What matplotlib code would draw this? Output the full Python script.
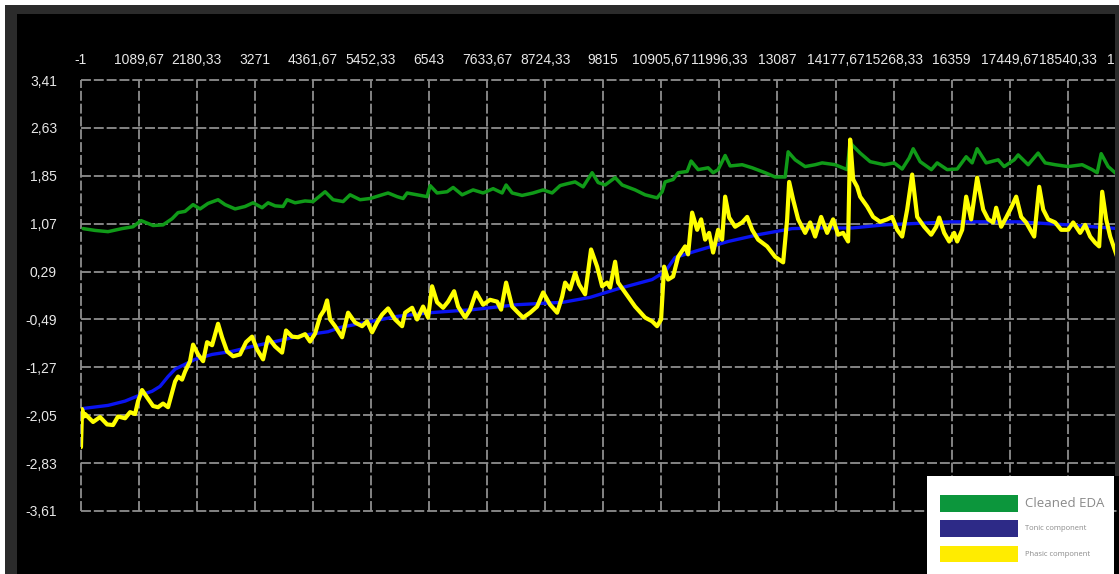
import matplotlib
matplotlib.use("Agg")
import matplotlib.pyplot as plt
from matplotlib.patches import Rectangle

W, H = 1119, 574

# ---------------- data ----------------
series_names = ["Cleaned EDA", "Tonic component", "Phasic component"]

green_x = [47, 272, 516, 779, 986, 1136, 1362, 1549, 1718, 1831,
           1962, 2113, 2244, 2394, 2582, 2714, 2902, 3089, 3240, 3409,
           3521, 3653, 3803, 3878, 4028, 4216, 4366, 4592, 4742, 4930,
           5061, 5249, 5437, 5625, 5775, 5944, 6057, 6132, 6319, 6507,
           6564, 6695, 6883, 6996, 7165, 7371, 7559, 7747, 7916, 7991,
           8104, 8291, 8498, 8686, 8855, 9005, 9137, 9287, 9437, 9606,
           9719, 9850, 10038, 10170, 10413, 10601, 10826, 10921, 10977, 11127,
           11221, 11390, 11465, 11597, 11785, 11878, 11972, 12104, 12198, 12423,
           12611, 12855, 13043, 13231, 13287, 13419, 13606, 13794, 13926, 14170,
           14395, 14451, 14490, 14639, 14827, 15090, 15278, 15428, 15560, 15635,
           15766, 15977, 16085, 16273, 16461, 16630, 16742, 16836, 17005, 17231,
           17343, 17531, 17606, 17794, 17981, 18113, 18301, 18545, 18808, 18996,
           19090, 19165, 19296, 19465]
green_y = [0.99, 0.96, 0.94, 0.99, 1.02, 1.12, 1.04, 1.05, 1.15, 1.25,
           1.27, 1.38, 1.31, 1.40, 1.46, 1.38, 1.31, 1.35, 1.41, 1.33,
           1.41, 1.36, 1.35, 1.46, 1.41, 1.44, 1.43, 1.59, 1.46, 1.43,
           1.54, 1.46, 1.48, 1.53, 1.57, 1.51, 1.48, 1.57, 1.54, 1.51,
           1.69, 1.57, 1.59, 1.66, 1.54, 1.62, 1.57, 1.64, 1.57, 1.70,
           1.57, 1.53, 1.57, 1.62, 1.57, 1.69, 1.72, 1.75, 1.67, 1.90,
           1.74, 1.70, 1.82, 1.70, 1.62, 1.54, 1.49, 1.59, 1.75, 1.79,
           1.90, 1.92, 2.09, 1.95, 1.98, 1.90, 1.95, 2.18, 2.01, 2.03,
           1.98, 1.90, 1.83, 1.83, 2.24, 2.11, 2.00, 2.03, 2.06, 2.03,
           1.95, 2.40, 2.35, 2.22, 2.08, 2.03, 2.06, 1.96, 2.14, 2.29,
           2.08, 1.95, 2.06, 1.95, 1.96, 2.16, 2.06, 2.29, 2.06, 2.11,
           2.00, 2.11, 2.19, 2.03, 2.22, 2.06, 2.03, 2.00, 2.03, 1.95,
           1.90, 2.21, 2.00, 1.87]

tonic_x = [47, 516, 836, 1061, 1343, 1493, 1643, 1775, 1962, 2150,
           2470, 2845, 3221, 3653, 4160, 4648, 4874, 5944, 6564, 7371,
           8197, 9061, 9568, 10094, 10733, 10977, 11165, 11540, 12160, 12723,
           13362, 13850, 14489, 15090, 16348, 17606, 18545, 19484]
tonic_y = [-1.94, -1.89, -1.82, -1.74, -1.66, -1.58, -1.42, -1.30, -1.22, -1.14,
           -1.06, -1.01, -0.93, -0.85, -0.75, -0.69, -0.62, -0.44, -0.38, -0.33,
           -0.25, -0.21, -0.13, 0.01, 0.16, 0.29, 0.52, 0.62, 0.78, 0.89,
           0.99, 1.00, 1.00, 1.05, 1.10, 1.10, 1.05, 0.99]

phasic_x = [8, 28, 66, 85, 235, 366, 498, 610, 704, 836,
            930, 1024, 1080, 1155, 1249, 1362, 1455, 1549, 1643, 1718,
            1775, 1831, 1906, 1962, 2056, 2113, 2207, 2301, 2376, 2470,
            2582, 2657, 2751, 2864, 2995, 3108, 3221, 3315, 3427, 3521,
            3653, 3784, 3859, 3972, 4085, 4216, 4310, 4404, 4498, 4573,
            4629, 4686, 4780, 4911, 5024, 5155, 5287, 5380, 5474, 5568,
            5662, 5775, 5906, 6038, 6094, 6226, 6319, 6432, 6526, 6601,
            6695, 6808, 6902, 7014, 7090, 7221, 7315, 7427, 7559, 7690,
            7822, 7897, 7991, 8104, 8216, 8310, 8442, 8573, 8686, 8817,
            8949, 9043, 9099, 9193, 9287, 9361, 9474, 9586, 9700, 9794,
            9888, 9944, 10038, 10094, 10225, 10413, 10601, 10733, 10826, 10901,
            10958, 11033, 11127, 11221, 11352, 11408, 11484, 11578, 11653, 11728,
            11803, 11878, 11972, 12047, 12104, 12179, 12291, 12423, 12517, 12611,
            12723, 12892, 13043, 13193, 13268, 13306, 13381, 13475, 13606, 13700,
            13794, 13906, 14019, 14131, 14225, 14319, 14413, 14451, 14508, 14583,
            14639, 14770, 14883, 15014, 15146, 15240, 15334, 15428, 15522, 15616,
            15710, 15841, 15973, 16067, 16123, 16217, 16311, 16404, 16461, 16555,
            16630, 16724, 16836, 16949, 17043, 17137, 17193, 17287, 17381, 17475,
            17569, 17663, 17756, 17907, 18001, 18076, 18170, 18301, 18414, 18545,
            18639, 18770, 18864, 18958, 19052, 19127, 19184, 19259, 19334, 19465]
phasic_y = [-2.57, -1.95, -2.07, -2.03, -2.16, -2.08, -2.20, -2.21, -2.07, -2.10,
            -2.00, -2.03, -1.82, -1.64, -1.76, -1.90, -1.92, -1.86, -1.92, -1.68,
            -1.50, -1.42, -1.47, -1.34, -1.17, -0.90, -1.06, -1.17, -0.86, -0.91,
            -0.56, -0.78, -1.01, -1.09, -1.06, -0.86, -0.77, -0.98, -1.14, -0.78,
            -0.93, -1.03, -0.67, -0.77, -0.78, -0.73, -0.85, -0.72, -0.44, -0.34,
            -0.18, -0.49, -0.60, -0.78, -0.38, -0.54, -0.60, -0.52, -0.70, -0.54,
            -0.41, -0.31, -0.49, -0.60, -0.38, -0.30, -0.49, -0.28, -0.46, 0.05,
            -0.21, -0.30, -0.20, -0.03, -0.28, -0.46, -0.33, -0.05, -0.25, -0.17,
            -0.20, -0.33, 0.11, -0.28, -0.38, -0.46, -0.38, -0.28, -0.05, -0.25,
            -0.38, -0.12, 0.11, 0.00, 0.27, 0.08, -0.08, 0.65, 0.37, 0.05,
            0.11, 0.03, 0.45, 0.11, -0.05, -0.28, -0.46, -0.52, -0.60, -0.49,
            0.37, 0.16, 0.21, 0.53, 0.70, 0.57, 1.25, 0.97, 1.14, 0.81,
            0.92, 0.60, 0.97, 0.81, 1.51, 1.17, 1.02, 1.09, 1.18, 0.97,
            0.81, 0.70, 0.53, 0.44, 1.14, 1.75, 1.46, 1.14, 0.92, 1.09,
            0.86, 1.18, 0.92, 1.14, 0.89, 0.92, 0.78, 2.44, 1.79, 1.67,
            1.51, 1.35, 1.18, 1.10, 1.14, 1.18, 0.97, 0.86, 1.30, 1.87,
            1.18, 1.02, 0.89, 1.02, 1.17, 0.92, 0.78, 0.92, 0.78, 0.97,
            1.51, 1.14, 1.82, 1.30, 1.14, 1.09, 1.33, 1.02, 1.17, 1.33,
            1.51, 1.18, 1.09, 0.86, 1.67, 1.30, 1.14, 1.09, 0.97, 0.97,
            1.09, 0.92, 1.05, 0.86, 0.76, 0.70, 1.59, 1.14, 0.86, 0.53]

x_ticks = [-1, 1089.67, 2180.33, 3271, 4361.67, 5452.33, 6543, 7633.67, 8724.33,
           9815, 10905.67, 11996.33, 13087, 14177.67, 15268.33, 16359, 17449.67,
           18540.33, 19631]
x_tick_labels = ["-1", "1089,67", "2180,33", "3271", "4361,67", "5452,33", "6543",
                 "7633,67", "8724,33", "9815", "10905,67", "11996,33", "13087",
                 "14177,67", "15268,33", "16359", "17449,67", "18540,33", "19631"]
y_ticks = [3.41, 2.63, 1.85, 1.07, 0.29, -0.49, -1.27, -2.05, -2.83, -3.61]
y_tick_labels = ["3,41", "2,63", "1,85", "1,07", "0,29", "-0,49", "-1,27",
                 "-2,05", "-2,83", "-3,61"]

# ---------------- styling ----------------
plt.rcParams['font.family'] = ['Liberation Sans', 'DejaVu Sans']

fig = plt.figure(figsize=(W / 100, H / 100), dpi=100, facecolor='black')


def fx(px):
    return px / W


def fy(py):
    return 1 - py / H


ax = fig.add_axes([fx(80.5), fy(511), fx(1126) - fx(80.5), fy(80) - fy(511)])
ax.set_facecolor('black')

ax.plot(green_x, green_y, color='#109a18', lw=2.5, zorder=3,
        solid_joinstyle='round', solid_capstyle='round')
ax.plot(tonic_x, tonic_y, color='#0a14f2', lw=2.4, zorder=4)
ax.plot(phasic_x, phasic_y, color='#ffff00', lw=3.0, zorder=5,
        solid_joinstyle='round', solid_capstyle='round')

ax.set_xlim(x_ticks[0], x_ticks[-1])
ax.set_ylim(y_ticks[-1], y_ticks[0])
ax.set_xticks(x_ticks)
ax.set_xticklabels(x_tick_labels)
ax.xaxis.tick_top()
ax.set_yticks(y_ticks)
ax.set_yticklabels(y_tick_labels)
ax.tick_params(length=0, colors='#e8e8e8', labelsize=10)
ax.tick_params(axis='x', pad=9)
ax.tick_params(axis='y', pad=17)
for s in ax.spines.values():
    s.set_visible(False)
ax.grid(True, color='#8e8e8e', lw=1.3, linestyle=(0, (5.5, 1.6)), zorder=1)
ax.set_axisbelow(True)
for gl in ax.get_xgridlines() + ax.get_ygridlines():
    gl.set_clip_on(False)

# ---------------- frame decorations ----------------
def frect(x0, y0, x1, y1, color, z=20):
    fig.add_artist(Rectangle((fx(x0), fy(y1)), fx(x1) - fx(x0), fy(y0) - fy(y1),
                             transform=fig.transFigure, facecolor=color,
                             edgecolor='none', zorder=z))

frect(0, 0, W, 5, 'white')
frect(0, 0, 5, H, 'white')
frect(5, 5, W, 14, '#2b2b2b')
frect(5, 5, 17, H, '#2b2b2b')
frect(1115, 14, W, 476, '#2b2b2b')

# legend box
frect(927, 476, 1114, H, 'white', z=30)
leg_colors = ['#0c963c', '#2d2a87', '#ffec00']
leg_rows = [(495, 512), (520, 537), (546, 562)]
leg_sizes = [9.5, 5.5, 5.5]
for name, col, (ya, yb), fs in zip(series_names, leg_colors, leg_rows, leg_sizes):
    frect(940, ya, 1018, yb, col, z=31)
    fig.text(fx(1025), fy((ya + yb) / 2), name, color='#8a8a8a', fontsize=fs,
             family=['Open Sans', 'DejaVu Sans'], ha='left', va='center', zorder=32)

fig.savefig('out.png', dpi=100, facecolor='black')
